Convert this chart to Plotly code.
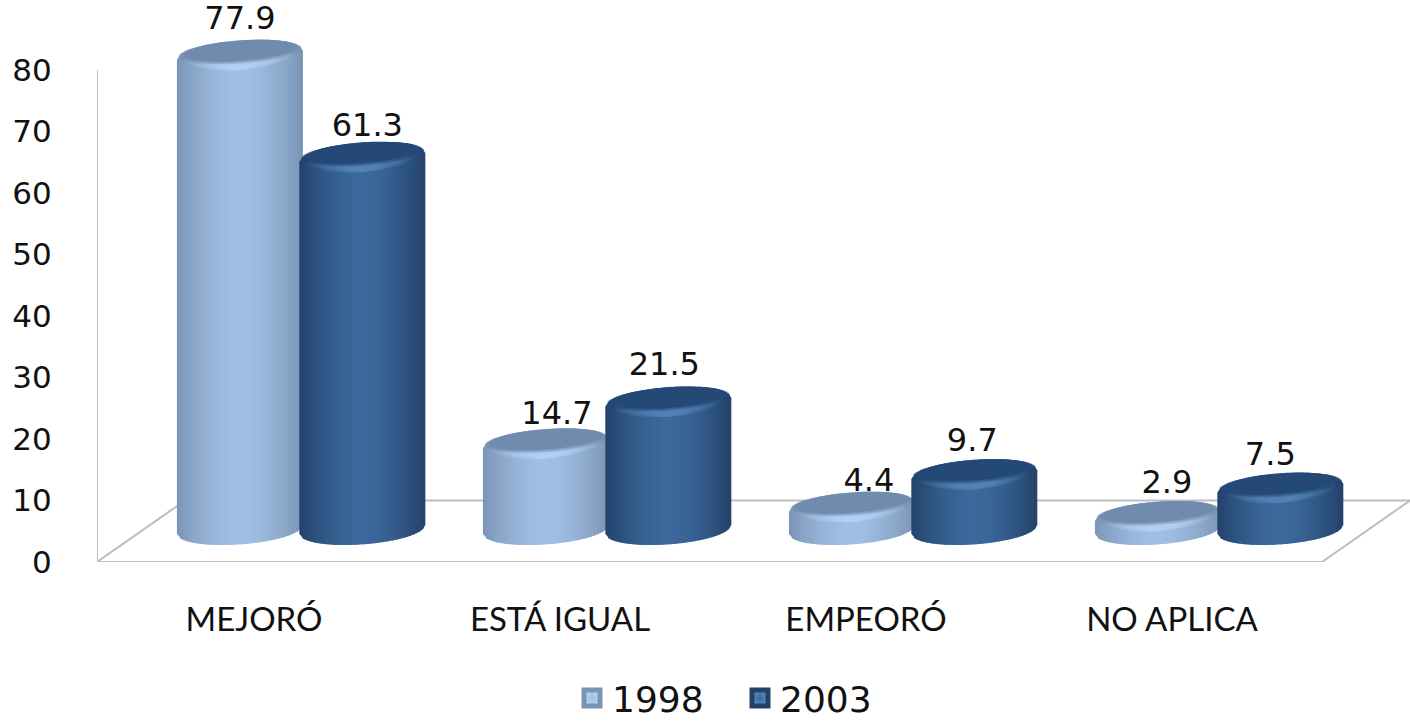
import math
import plotly.graph_objects as go

categories = ["MEJORÓ", "ESTÁ IGUAL", "EMPEORÓ", "NO APLICA"]
series_names = ["1998", "2003"]
values_1998 = [77.9, 14.7, 4.4, 2.9]
values_2003 = [61.3, 21.5, 9.7, 7.5]
y_ticks = [0, 10, 20, 30, 40, 50, 60, 70, 80]

W, H = 1410, 722
PLOT_L, PLOT_B = 97, 562
X_UNIT = 306.0
Y_UNIT = 6.15
X_ZERO = 254.0
xr = [(PLOT_L - X_ZERO) / X_UNIT, (W - X_ZERO) / X_UNIT]
yr = [0, PLOT_B / Y_UNIT]

OFFSETS = [-0.046, 0.354]
RX = 63 / X_UNIT
RY = 15 / Y_UNIT
SHEAR = 4.4 / Y_UNIT
BASE = 5.3
LIFT = 4.5
STRIPS = 42
# label placement relative to each cylinder's top, in pixels
LABEL_RISE = [[34, 28, 24, 31], [29, 35, 32, 31]]
LABEL_SHIFT = [[0, 11, 17, 9], [5, -4, -2, -10]]

STYLE = [
    dict(edge=(122, 148, 180), mid=(160, 191, 228), cap=(112, 139, 174), glow=(184, 216, 248)),
    dict(edge=(34, 66, 106), mid=(60, 104, 155), cap=(37, 73, 118), glow=(94, 142, 192)),
]


def mix(a, b, t):
    return tuple(round(a[i] + (b[i] - a[i]) * t) for i in range(3))


def css(c, a=1.0):
    return f"rgba({c[0]},{c[1]},{c[2]},{a})"


def poly(xs, ys, color):
    return go.Scatter(x=xs, y=ys, mode="lines", fill="toself", fillcolor=color,
                      line=dict(width=0), hoverinfo="skip", showlegend=False,
                      cliponaxis=False)


def ellipse(cx, cy, rx, ry, shear, n=72):
    ts = [2 * math.pi * i / n for i in range(n + 1)]
    xs = [cx + rx * math.cos(t) for t in ts]
    ys = [cy + ry * math.sin(t) + shear * math.cos(t) for t in ts]
    return xs, ys


def arc(u, cy, sign):
    return cy + sign * RY * math.sqrt(max(0.0, 1 - u * u)) + SHEAR * u


def cylinder(cx, value, st):
    out = []
    top = LIFT + value
    for i in range(STRIPS):
        u0 = -1 + 2 * i / STRIPS
        u1 = min(1.0, -1 + 2 * (i + 1.35) / STRIPS)
        um = (u0 + u1) / 2
        col = mix(st["edge"], st["mid"], max(0.0, 1 - abs(um) ** 1.7))
        x0, x1 = cx + RX * u0, cx + RX * u1
        xs = [x0, x1, x1, x0, x0]
        ys = [arc(u0, BASE, -1), arc(u1, BASE, -1), arc(u1, top, 1), arc(u0, top, 1),
              arc(u0, BASE, -1)]
        out.append(poly(xs, ys, css(col)))
    # bevel highlight below the top face, many faint layers
    for j in range(7):
        f = 0.85 - j * 0.09
        xs, ys = ellipse(cx, top - 0.02 * RY - j * 0.012 * RY, RX * f, RY * (0.98 - j * 0.015), SHEAR * f)
        out.append(poly(xs, ys, css(st["glow"], 0.16)))
    # top face, soft edged
    for j in range(6):
        f = 0.98 - j * 0.016
        ry = RY * (0.78 - j * 0.02)
        a = 0.22 if j < 5 else 1.0
        xs, ys = ellipse(cx, top + (RY - ry) - 0.05, RX * f, ry, SHEAR * 0.95)
        out.append(poly(xs, ys, css(st["cap"], a)))
    return out


fig = go.Figure()

# floor frame
FLOOR = dict(mode="lines", line=dict(color="#bdbdbd", width=2), hoverinfo="skip",
             showlegend=False, cliponaxis=False)
DX, DY = 88 / X_UNIT, 10
front_r = xr[0] + 1225 / X_UNIT
fig.add_trace(go.Scatter(x=[xr[0], xr[0], front_r, front_r + DX],
                         y=[y_ticks[-1], 0, 0, DY], **FLOOR))
fig.add_trace(go.Scatter(x=[xr[0], xr[0] + DX], y=[0, DY], **FLOOR))
fig.add_trace(go.Scatter(x=[xr[0] + DX, xr[1]], y=[DY, DY], **FLOOR))

all_values = [values_1998, values_2003]

# data labels sit behind the cylinders, as the caps clip them slightly
for s in range(2):
    fig.add_trace(go.Scatter(
        x=[g + OFFSETS[s] + LABEL_SHIFT[s][g] / X_UNIT for g in range(len(categories))],
        y=[LIFT + all_values[s][g] + LABEL_RISE[s][g] / Y_UNIT for g in range(len(categories))],
        mode="text", text=[f"{v:.1f}" for v in all_values[s]],
        textposition="middle center",
        textfont=dict(family="DejaVu Sans", size=32, color="#111111"),
        hoverinfo="skip", showlegend=False, cliponaxis=False))

for g in range(len(categories)):
    for s in range(2):
        for tr in cylinder(g + OFFSETS[s], all_values[s][g], STYLE[s]):
            fig.add_trace(tr)

# legend entries
for s in range(2):
    fig.add_trace(go.Scatter(
        x=[None], y=[None], mode="markers", name=series_names[s],
        marker=dict(symbol="square", size=16, color=css(STYLE[s]["glow"]),
                    gradient=dict(type="radial", color=css(STYLE[s]["mid"])),
                    line=dict(color=css(STYLE[s]["edge"]), width=5)),
        showlegend=True))

fig.update_layout(
    width=W, height=H, autosize=False,
    margin=dict(l=PLOT_L, r=0, t=0, b=H - PLOT_B, pad=0),
    paper_bgcolor="white", plot_bgcolor="white",
    showlegend=True,
    legend=dict(orientation="h", xref="container", yref="container",
                x=572 / W, xanchor="left",
                y=1 - 698 / H, yanchor="middle",
                entrywidth=123, entrywidthmode="pixels",
                font=dict(family="DejaVu Sans", size=36, color="#111111"),
                bgcolor="rgba(0,0,0,0)", itemclick=False, itemdoubleclick=False),
    xaxis=dict(range=xr, tickmode="array", tickvals=list(range(len(categories))),
               ticktext=categories, showgrid=False, zeroline=False, showline=False,
               automargin=False,
               ticks="outside", ticklen=28, tickcolor="rgba(0,0,0,0)",
               tickfont=dict(family="Lato", size=33, color="#111111")),
    yaxis=dict(range=yr, tickmode="array", tickvals=y_ticks, ticktext=[str(t) for t in y_ticks],
               showgrid=False, zeroline=False, showline=False,
               automargin=False,
               ticks="outside", ticklen=38, tickcolor="rgba(0,0,0,0)",
               tickfont=dict(family="DejaVu Sans", size=31, color="#111111")),
)

fig.write_html("out.html", config=dict(displayModeBar=False),
               post_script="document.body.style.margin='0';")
